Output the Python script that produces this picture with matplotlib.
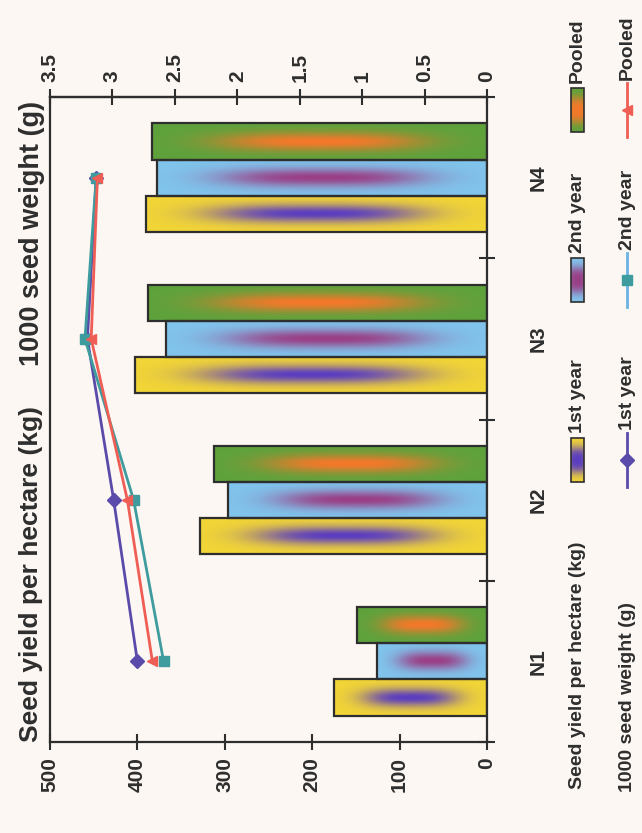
import numpy as np
import matplotlib
matplotlib.use("Agg")
import matplotlib.pyplot as plt
from matplotlib.patches import Rectangle
from matplotlib.lines import Line2D

plt.rcParams['font.family'] = ['Liberation Sans', 'DejaVu Sans']
plt.rcParams['font.weight'] = 'bold'

# data (chart is printed rotated 90 degrees)
categories = ['N1', 'N2', 'N3', 'N4']
series = ['1st year', '2nd year', 'Pooled']
yield_1st = [175, 328, 403, 390]
yield_2nd = [126, 296, 367, 378]
yield_pooled = [149, 312, 388, 383]
weight_1st = [2.80, 2.99, 3.20, 3.13]
weight_2nd = [2.59, 2.83, 3.22, 3.13]
weight_pooled = [2.68, 2.88, 3.17, 3.12]
yield_ticks = [0, 100, 200, 300, 400, 500]
weight_ticks = [0, 0.5, 1, 1.5, 2, 2.5, 3, 3.5]

bar_base = ['#F2D536', '#80C4EC', '#5EA23C']
bar_center = ['#5B3DC0', '#9A3F86', '#F5782A']
line_col = ['#5A4BAA', '#3E9B9E', '#EE5E55']
legend_line_col = ['#5A4BAA', '#6AB2E2', '#EE5E55']
markers = ['D', 's', '<']
bg = '#FCF7F2'
dark = '#2e2e2e'


def gradient(base, center, along='x', spread=0.5):
    u = np.linspace(-1, 1, 200)
    v = np.linspace(-1, 1, 60)
    U, V = np.meshgrid(u, v)
    w = np.exp(-(np.abs(U) / 0.62) ** 3 - (V / spread) ** 2)
    b = np.array(matplotlib.colors.to_rgb(base))
    c = np.array(matplotlib.colors.to_rgb(center))
    img = b * (1 - w[..., None]) + c * w[..., None]
    if along == 'y':
        img = img.transpose(1, 0, 2)
    return img


fig = plt.figure(figsize=(6.42, 8.33), dpi=100, facecolor=bg)
ax = fig.add_axes([50 / 642, 1 - 742 / 833, 437 / 642, 645 / 833])
ax.set_facecolor(bg)

pos = np.arange(1, len(categories) + 1)
h = 0.224
yields = [yield_1st, yield_2nd, yield_pooled]
for i, vals in enumerate(yields):
    bars = ax.barh(pos + (i - 1) * h, vals, height=h, color=bar_base[i], zorder=2)
    img = gradient(bar_base[i], bar_center[i])
    for b in bars:
        x0, y0 = b.get_x(), b.get_y()
        im = ax.imshow(img, extent=(x0, x0 + b.get_width(), y0, y0 + b.get_height()),
                       aspect='auto', interpolation='bilinear', zorder=2.5)
        im.set_clip_path(b)
    ax.barh(pos + (i - 1) * h, vals, height=h, fill=False, edgecolor=dark, linewidth=1.6, zorder=3)

ax.set_xlim(500, 0)
ax.set_ylim(0.5, 4.5)
ax.set_xticks(yield_ticks)
ax.set_xticklabels([str(t) for t in yield_ticks])
ax.tick_params(axis='x', direction='inout', length=12, width=1.5, labelsize=15,
               labelrotation=90, pad=5, colors=dark)
ax.yaxis.tick_right()
ax.set_yticks([0.5, 1.5, 2.5, 3.5, 4.5])
ax.set_yticklabels([])
ax.set_yticks(pos, minor=True)
ax.set_yticklabels(categories, minor=True, rotation=90, va='center')
ax.tick_params(axis='y', which='major', direction='inout', length=12, width=1.5, colors=dark)
ax.tick_params(axis='y', which='minor', length=0, pad=30, labelsize=15, colors=dark)
for s in ax.spines.values():
    s.set_color(dark)
    s.set_linewidth(1.6)

ax2 = ax.twiny()
weights = [weight_1st, weight_2nd, weight_pooled]
for i, vals in enumerate(weights):
    ax2.plot(vals, pos, color=line_col[i], lw=2, marker=markers[i], markersize=7,
             markeredgecolor=line_col[i], zorder=4)
ax2.set_xlim(3.5, 0)
ax2.set_xticks(weight_ticks)
ax2.set_xticklabels([f'{t:g}' for t in weight_ticks])
ax2.tick_params(axis='x', direction='inout', length=12, width=1.5, labelsize=15,
                labelrotation=90, pad=5, colors=dark)
for k in ['left', 'right', 'bottom']:
    ax2.spines[k].set_visible(False)
ax2.spines['top'].set_color(dark)
ax2.spines['top'].set_linewidth(1.6)

# titles and legend, drawn in pixel coordinates of the page
ov = fig.add_axes([0, 0, 1, 1], facecolor='none')
ov.axis('off')

ov.text(31, 574, 'Seed yield per hectare (kg)', rotation=90, ha='center', va='center',
        fontsize=19, color=dark)
ov.text(32, 233, '1000 seed weight (g)', rotation=90, ha='center', va='center',
        fontsize=19.5, color=dark)

ov.text(577, 665, 'Seed yield per hectare (kg)', rotation=90, ha='center', va='center',
        fontsize=14, color=dark)
ov.text(627, 697, '1000 seed weight (g)', rotation=90, ha='center', va='center',
        fontsize=14, color=dark)

key_y = [460, 280, 110]
for i, name in enumerate(series):
    r = Rectangle((571, key_y[i] - 22), 13, 44, facecolor=bar_base[i], edgecolor='none')
    ov.add_patch(r)
    im = ov.imshow(gradient(bar_base[i], bar_center[i], along='y', spread=3.0),
                   extent=(571, 584, key_y[i] + 22, key_y[i] - 22), aspect='auto',
                   interpolation='bilinear', zorder=2)
    im.set_clip_path(r)
    ov.add_patch(Rectangle((571, key_y[i] - 22), 13, 44, fill=False, edgecolor=dark, lw=1.2, zorder=3))
    ov.text(577, key_y[i] - 27, name, rotation=90, ha='center', va='bottom', fontsize=14, color=dark)

    ov.add_line(Line2D([627, 627], [key_y[i] + 27, key_y[i] - 27], color=legend_line_col[i], lw=2))
    ov.plot([627], [key_y[i]], marker=markers[i], color=line_col[i], markersize=7)
    ov.text(627, key_y[i] - 30, name, rotation=90, ha='center', va='bottom', fontsize=14, color=dark)
ov.set_xlim(0, 642)
ov.set_ylim(833, 0)

fig.savefig('out.png', dpi=100, facecolor=bg)
